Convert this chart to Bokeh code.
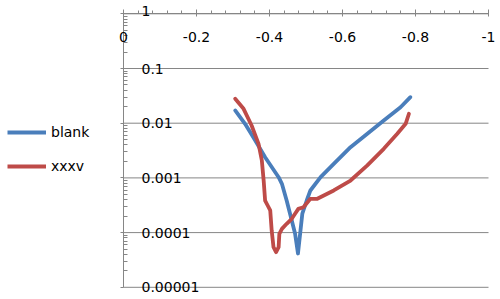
from bokeh.plotting import figure
from bokeh.layouts import row
from bokeh.models import Range1d, Label, Legend, LegendItem, FixedTicker
from bokeh.embed import file_html
from bokeh.resources import INLINE

# ---- data ----
blank_x = [-0.306, -0.333, -0.361, -0.388, -0.425, -0.434, -0.447, -0.461, -0.470, -0.478,
           -0.484, -0.490, -0.502, -0.512, -0.540, -0.576, -0.622, -0.668, -0.713, -0.759, -0.786]
blank_y = [0.0171, 0.00975, 0.00483, 0.00239, 0.00103, 0.00078, 0.000386, 0.000166, 0.0000964, 0.0000415,
           0.0000964, 0.000223, 0.000386, 0.000589, 0.00103, 0.00181, 0.00364, 0.0064, 0.0112, 0.0196, 0.0299]

xxxv_x = [-0.306, -0.329, -0.351, -0.370, -0.379, -0.384, -0.388, -0.395, -0.402, -0.406,
          -0.411, -0.418, -0.425, -0.427, -0.434, -0.447, -0.461, -0.470, -0.479, -0.493,
          -0.512, -0.531, -0.576, -0.622, -0.668, -0.713, -0.750, -0.773, -0.782]
xxxv_y = [0.0279, 0.0183, 0.00908, 0.0042, 0.00208, 0.000895, 0.000386, 0.000313, 0.000254, 0.000109,
          0.0000541, 0.0000439, 0.0000541, 0.000095, 0.000117, 0.000145, 0.000179, 0.000221, 0.000272, 0.000291,
          0.000415, 0.000415, 0.000589, 0.000895, 0.00169, 0.0034, 0.0064, 0.00975, 0.0149]

x_ticks = [0, -0.2, -0.4, -0.6, -0.8, -1]
x_tick_labels = ["0", "-0.2", "-0.4", "-0.6", "-0.8", "-1"]
y_ticks = [1, 0.1, 0.01, 0.001, 0.0001, 0.00001]
y_tick_labels = ["1", "0.1", "0.01", "0.001", "0.0001", "0.00001"]
series_names = ["blank", "xxxv"]

BLUE = "#4A7EBB"
RED = "#BE4B48"
GRAY = "#868686"
FONT = "DejaVu Sans"
LW = 3.8

# ---- layout (pixels) ----
H = 299
LEG_W = 103
MAIN_W = 395
BL, BR, BT, BB = 10, 2, 0, 6           # borders of the main figure
AXIS_PX_X = 123                         # where x = 0 sits on the page
AXIS_PX_Y = 13.3                        # where y = 1 sits on the page
PX_PER_X = 365.0                        # pixels per unit of x
PX_PER_DECADE = 54.7                    # pixels per decade of y
frame_l = LEG_W + BL
frame_r = LEG_W + MAIN_W - BR
frame_t = BT
frame_b = H - BB
x_range = Range1d(-(frame_l - AXIS_PX_X) / PX_PER_X, -(frame_r - AXIS_PX_X) / PX_PER_X)
y_range = Range1d(10 ** (-(frame_b - AXIS_PX_Y) / PX_PER_DECADE), 10 ** ((AXIS_PX_Y - frame_t) / PX_PER_DECADE))

x_lo, x_hi = min(x_ticks), max(x_ticks)
y_lo, y_hi = min(y_ticks), max(y_ticks)

# ---------------- main chart ----------------
p = figure(width=MAIN_W, height=H, output_backend="svg", toolbar_location=None,
           x_range=x_range, y_range=y_range, y_axis_type="log",
           x_axis_location="below",
           min_border_left=BL, min_border_right=BR, min_border_top=BT, min_border_bottom=BB)
p.outline_line_color = None
p.background_fill_color = "white"
p.border_fill_color = "white"
p.xgrid.visible = False
p.ygrid.visible = False

# horizontal gridlines between the axis ends
p.segment(x0=[x_hi] * len(y_ticks), x1=[x_lo] * len(y_ticks), y0=y_ticks, y1=y_ticks,
          line_color=GRAY, line_width=1)

# x axis drawn at y = 1 (top of the data area)
xa = p.xaxis[0]
xa.fixed_location = y_hi
xa.bounds = (x_lo, x_hi)
xa.ticker = FixedTicker(ticks=x_ticks, minor_ticks=[-i * 0.04 for i in range(26)])
xa.axis_line_color = GRAY
xa.major_tick_line_color = GRAY
xa.minor_tick_line_color = GRAY
xa.major_tick_in = 4
xa.major_tick_out = 3
xa.minor_tick_in = 3
xa.minor_tick_out = 0
xa.major_label_text_font_size = "1px"
xa.major_label_text_color = None
xa.major_label_standoff = 0

# y axis drawn at x = 0
minor_y = [m * 10.0 ** e for e in range(-5, 0) for m in range(2, 10)]
ya = p.yaxis[0]
ya.fixed_location = x_hi
ya.bounds = (y_lo, y_hi)
ya.ticker = FixedTicker(ticks=y_ticks, minor_ticks=minor_y)
ya.axis_line_color = GRAY
ya.major_tick_line_color = GRAY
ya.minor_tick_line_color = GRAY
ya.major_tick_in = 0
ya.major_tick_out = 3
ya.minor_tick_in = 4
ya.minor_tick_out = 0
ya.major_label_text_font_size = "1px"
ya.major_label_text_color = None
ya.major_label_standoff = 0

p.line(blank_x, blank_y, line_color=BLUE, line_width=LW, line_join="round", line_cap="round")
p.line(xxxv_x, xxxv_y, line_color=RED, line_width=LW, line_join="round", line_cap="round")

# tick labels inside the plot area, like the reference
for xv, txt in zip(x_ticks, x_tick_labels):
    p.add_layout(Label(x=xv, y=y_hi, text=txt, y_offset=-23,
                       text_align="center", text_baseline="middle",
                       text_font=FONT, text_font_size="14px", text_color="black"))
for yv, txt in zip(y_ticks, y_tick_labels):
    p.add_layout(Label(x=x_hi, y=yv, text=txt, x_offset=18, y_offset=3 if yv == y_hi else 0,
                       text_align="left", text_baseline="middle",
                       text_font=FONT, text_font_size="14px", text_color="black"))

# ---------------- legend panel (left of the chart) ----------------
lp = figure(width=LEG_W, height=H, output_backend="svg", toolbar_location=None,
            x_range=Range1d(0, 1), y_range=Range1d(0, 1),
            x_axis_location=None, y_axis_location=None,
            min_border_left=0, min_border_right=0, min_border_top=0, min_border_bottom=0)
lp.outline_line_color = None
lp.xgrid.visible = False
lp.ygrid.visible = False
lb = lp.line(blank_x, blank_y, line_color=BLUE, line_width=LW)
lx = lp.line(xxxv_x, xxxv_y, line_color=RED, line_width=LW)

legend = Legend(items=[LegendItem(label=series_names[0], renderers=[lb]),
                       LegendItem(label=series_names[1], renderers=[lx])],
                location=(7, 117))
legend.label_text_font = FONT
legend.label_text_font_size = "14px"
legend.label_text_color = "black"
legend.glyph_width = 39
legend.glyph_height = 20
legend.label_standoff = 5
legend.spacing = 14
legend.padding = 0
legend.margin = 0
legend.border_line_color = None
legend.background_fill_alpha = 0
lp.add_layout(legend, "center")

layout = row(lp, p, spacing=0)
open("out.html", "w").write(file_html(layout, INLINE))
